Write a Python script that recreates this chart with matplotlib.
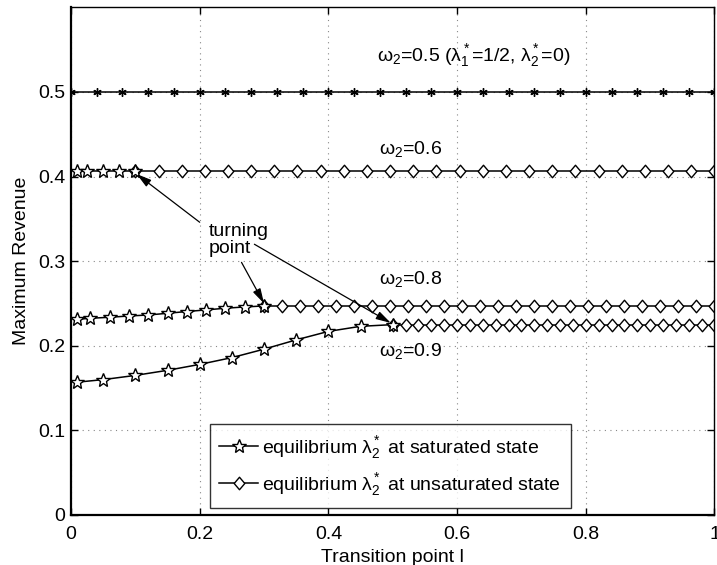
import numpy as np
import matplotlib
matplotlib.use("Agg")
import matplotlib.pyplot as plt
from matplotlib.lines import Line2D
from matplotlib.path import Path

plt.rcParams['font.family'] = ['Liberation Sans', 'DejaVu Sans']
plt.rcParams['mathtext.fontset'] = 'custom'
plt.rcParams['mathtext.rm'] = 'Liberation Sans'
plt.rcParams['mathtext.it'] = 'Liberation Sans'
plt.rcParams['mathtext.default'] = 'regular'

# omega_2 = 0.5: constant revenue over the whole range
l_w05 = np.linspace(0.0, 1.0, 26)
rev_w05 = [0.5] * 26

# omega_2 = 0.6
l_w06_sat = [0.01, 0.025, 0.05, 0.075, 0.1]
rev_w06_sat = [0.4065, 0.4065, 0.4065, 0.4065, 0.4065]
l_w06_unsat = np.linspace(0.1, 1.0, 26)
rev_w06_unsat = [0.4065] * 26

# omega_2 = 0.8
l_w08_sat = [0.01, 0.03, 0.06, 0.09, 0.12, 0.15, 0.18, 0.21, 0.24, 0.27, 0.3]
rev_w08_sat = [0.2313, 0.2325, 0.2337, 0.2352, 0.2364, 0.2384, 0.2405,
               0.2424, 0.2444, 0.2459, 0.2471]
l_w08_unsat = np.linspace(0.3, 1.0, 26)
rev_w08_unsat = [0.2471] * 26

# omega_2 = 0.9
l_w09_sat = [0.01, 0.05, 0.1, 0.15, 0.2, 0.25, 0.3, 0.35, 0.4, 0.45, 0.5]
rev_w09_sat = [0.157, 0.160, 0.165, 0.171, 0.178, 0.186, 0.196,
               0.207, 0.217, 0.223, 0.225]
l_w09_unsat = np.linspace(0.5, 1.0, 26)
rev_w09_unsat = [0.225] * 26

x_ticks = [0, 0.2, 0.4, 0.6, 0.8, 1]
x_tick_labels = ['0', '0.2', '0.4', '0.6', '0.8', '1']
y_ticks = [0, 0.1, 0.2, 0.3, 0.4, 0.5]
y_tick_labels = ['0', '0.1', '0.2', '0.3', '0.4', '0.5']

FS = 14

# diamond a bit narrower than it is tall
diamond = Path([(0, 1), (0.85, 0), (0, -1), (-0.85, 0), (0, 1)],
               [Path.MOVETO, Path.LINETO, Path.LINETO, Path.LINETO,
                Path.CLOSEPOLY])

fig = plt.figure(figsize=(7.17, 5.65), dpi=100)
ax = fig.add_axes([0.099, 0.0885, 0.8975, 0.8985])

star_kw = dict(color='black', lw=1.1, marker='*', ms=10, mfc='white',
               mec='black', mew=1.0)
dia_kw = dict(color='black', lw=1.1, marker=diamond, ms=9, mfc='white',
              mec='black', mew=1.0)

ax.plot(l_w05, rev_w05, color='black', lw=1.1, marker=(6, 2, 0), ms=6, mew=1.0)

ax.plot(l_w06_unsat, rev_w06_unsat, **dia_kw)
ax.plot(l_w06_sat, rev_w06_sat, **star_kw)

ax.plot(l_w08_unsat, rev_w08_unsat, **dia_kw)
ax.plot(l_w08_sat, rev_w08_sat, **star_kw)

ax.plot(l_w09_unsat, rev_w09_unsat, **dia_kw)
ax.plot(l_w09_sat, rev_w09_sat, **star_kw)

ax.set_xlim(0, 1)
ax.set_ylim(0, 0.6)
ax.set_xticks(x_ticks)
ax.set_xticklabels(x_tick_labels)
ax.set_yticks(y_ticks)
ax.set_yticklabels(y_tick_labels)
ax.tick_params(direction='in', length=5, width=1.0, top=True, right=True,
               labelsize=FS)
ax.tick_params(axis='x', pad=8)
ax.tick_params(axis='y', pad=4)
ax.grid(True, color='#888888', linestyle=(0, (1, 4)), linewidth=0.8)
for s in ax.spines.values():
    s.set_linewidth(1.0)
ax.spines['left'].set_linewidth(1.6)
ax.spines['bottom'].set_linewidth(1.6)

ax.set_xlabel('Transition point l', fontsize=FS, labelpad=4)
ax.set_ylabel('Maximum Revenue', fontsize=FS, labelpad=6)

ax.text(0.475, 0.543, r'$\omega_2$=0.5 ($\lambda^*_1$=1/2, $\lambda^*_2$=0)',
        fontsize=FS, va='center', ha='left')
ax.text(0.478, 0.433, r'$\omega_2$=0.6', fontsize=FS, va='center', ha='left')
ax.text(0.479, 0.279, r'$\omega_2$=0.8', fontsize=FS, va='center', ha='left')
ax.text(0.479, 0.194, r'$\omega_2$=0.9', fontsize=FS, va='center', ha='left')
ax.text(0.214, 0.325, 'turning\npoint', fontsize=FS, va='center', ha='left',
        linespacing=1.0)

arrow = dict(arrowstyle='-|>,head_length=0.9,head_width=0.25', color='black',
             lw=0.9, shrinkA=0, shrinkB=0)
ax.annotate('', xy=(0.102, 0.403), xytext=(0.2, 0.346), arrowprops=arrow)
ax.annotate('', xy=(0.3, 0.250), xytext=(0.265, 0.2986), arrowprops=arrow)
ax.annotate('', xy=(0.497, 0.227), xytext=(0.285, 0.320), arrowprops=arrow)

handles = [Line2D([], [], **star_kw), Line2D([], [], **dia_kw)]
labels = [r'equilibrium $\lambda^*_2$ at saturated state',
          r'equilibrium $\lambda^*_2$ at unsaturated state']
leg = ax.legend(handles, labels, loc='lower left',
                bbox_to_anchor=(0.2155, 0.014), fontsize=FS, frameon=True,
                fancybox=False, edgecolor='black', handlelength=2.0,
                handletextpad=0.2, borderpad=0.5, labelspacing=0.55,
                borderaxespad=0)
leg.get_frame().set_linewidth(1.0)

fig.savefig('out.png', dpi=100)
